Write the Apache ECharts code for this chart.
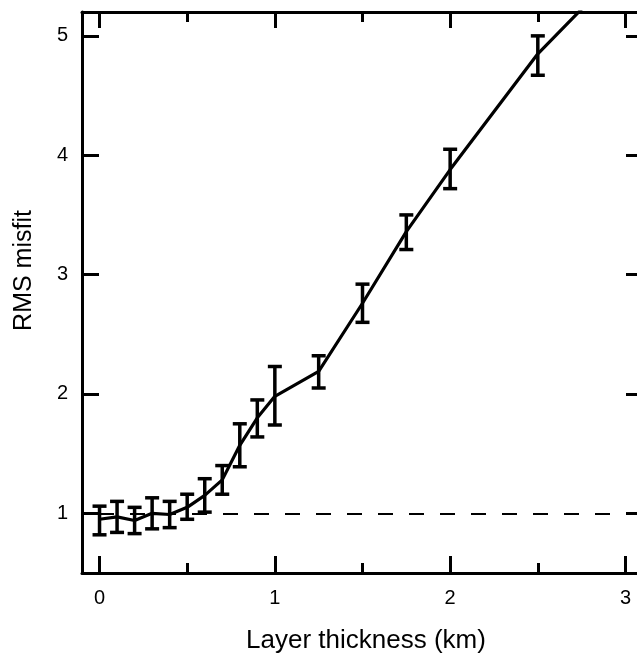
<!DOCTYPE html>
<html>
<head>
<meta charset="utf-8">
<script src="https://cdn.jsdelivr.net/npm/echarts@6/dist/echarts.min.js"></script>
<style>
  html, body { margin: 0; padding: 0; background: #fff; }
  #chart { width: 637px; height: 658px; }
</style>
</head>
<body>
<div id="chart"></div>
<script>
// layer thickness (km) and RMS misfit
const thickness = [0, 0.1, 0.2, 0.3, 0.4, 0.5, 0.6, 0.7, 0.8, 0.9, 1.0, 1.25, 1.5, 1.75, 2.0, 2.5, 3.0];
const misfit = [0.95, 0.97, 0.94, 1.00, 0.99, 1.05, 1.15, 1.28, 1.57, 1.80, 1.98, 2.19, 2.76, 3.36, 3.88, 4.85, 5.6];
// error bar ends (the 3.0 km one lies above the frame)
const misfitLow = [0.82, 0.84, 0.83, 0.87, 0.88, 0.95, 1.01, 1.16, 1.39, 1.64, 1.74, 2.05, 2.60, 3.21, 3.72, 4.67];
const misfitHigh = [1.06, 1.10, 1.05, 1.13, 1.10, 1.16, 1.29, 1.40, 1.75, 1.95, 2.23, 2.32, 2.92, 3.50, 4.05, 5.00];
const referenceMisfit = 1;

const xMajorTicks = [0, 1, 2, 3];
const xMinorTicks = [0.5, 1.5, 2.5];
const yTicks = [1, 2, 3, 4, 5];

const FONT = 'Liberation Sans, Arial, Helvetica, sans-serif';

class MisfitChart {
  constructor(el) {
    this.chart = echarts.init(el, null, { renderer: 'canvas' });
  }

  init() {
    this.chart.setOption(this.buildOption());
  }

  xAxis(position, ticks, len, opts) {
    return Object.assign({
      type: 'value',
      gridIndex: 0,
      position: position,
      min: -0.1,
      max: 3.1,
      axisLine: { show: true, onZero: false, lineStyle: { color: '#000', width: 3 } },
      axisTick: { show: true, inside: true, length: len, customValues: ticks, lineStyle: { color: '#000', width: 3 } },
      axisLabel: { show: false },
      splitLine: { show: false }
    }, opts || {});
  }

  yAxis(position, opts) {
    return Object.assign({
      type: 'value',
      position: position,
      min: 0.5,
      max: 5.2,
      axisLine: { show: true, onZero: false, lineStyle: { color: '#000', width: 3 } },
      axisTick: { show: true, inside: true, length: 17, customValues: yTicks, lineStyle: { color: '#000', width: 3 } },
      axisLabel: { show: false },
      splitLine: { show: false }
    }, opts || {});
  }

  buildOption() {
    const linePoints = thickness.map((x, i) => [x, misfit[i]]);
    const barPoints = misfitLow.map((lo, i) => [thickness[i], lo, misfitHigh[i]]);

    return {
      animation: false,
      backgroundColor: '#fff',
      // frame runs past the right edge of the picture, as in the original
      grid: { left: 82, top: 12, width: 561, height: 561, outerBoundsMode: 'none', containLabel: false },
      xAxis: [
        this.xAxis('bottom', xMajorTicks, 17, {
          name: 'Layer thickness (km)',
          nameLocation: 'middle',
          nameGap: 55,
          nameTextStyle: { color: '#000', fontSize: 26, fontFamily: FONT, padding: [0, 0, 0, 7] },
          axisLabel: { show: true, customValues: xMajorTicks, margin: 15, color: '#000', fontSize: 20, fontFamily: FONT }
        }),
        this.xAxis('top', xMajorTicks, 16),
        this.xAxis('bottom', xMinorTicks, 10, { axisLine: { show: false } }),
        this.xAxis('top', xMinorTicks, 10, { axisLine: { show: false } })
      ],
      yAxis: [
        this.yAxis('left', {
          name: 'RMS misfit',
          nameLocation: 'middle',
          nameGap: 45,
          nameTextStyle: { color: '#000', fontSize: 25, fontFamily: FONT, padding: [0, 0, 0, 44] },
          axisLabel: { show: true, customValues: yTicks, margin: 14, color: '#000', fontSize: 20, fontFamily: FONT }
        }),
        this.yAxis('right')
      ],
      series: [
        {
          type: 'line',
          data: linePoints,
          smooth: false,
          showSymbol: false,
          symbol: 'none',
          clip: true,
          lineStyle: { color: '#000', width: 3.2 },
          z: 3,
          markLine: {
            silent: true,
            symbol: 'none',
            label: { show: false },
            lineStyle: { color: '#000', width: 2, type: [15, 16], dashOffset: 14 },
            data: [{ yAxis: referenceMisfit }]
          }
        },
        {
          type: 'custom',
          data: barPoints,
          clip: true,
          z: 4,
          renderItem: (params, api) => {
            const x = api.value(0);
            const lo = api.coord([x, api.value(1)]);
            const hi = api.coord([x, api.value(2)]);
            const half = 7;
            const style = { stroke: '#000', lineWidth: 3.5 };
            return {
              type: 'group',
              children: [
                { type: 'line', shape: { x1: lo[0], y1: lo[1], x2: hi[0], y2: hi[1] }, style: style },
                { type: 'line', shape: { x1: lo[0] - half, y1: lo[1], x2: lo[0] + half, y2: lo[1] }, style: style },
                { type: 'line', shape: { x1: hi[0] - half, y1: hi[1], x2: hi[0] + half, y2: hi[1] }, style: style }
              ]
            };
          }
        }
      ]
    };
  }
}

let misfitChart = new MisfitChart(document.getElementById('chart'));
misfitChart.init();
</script>
</body>
</html>
